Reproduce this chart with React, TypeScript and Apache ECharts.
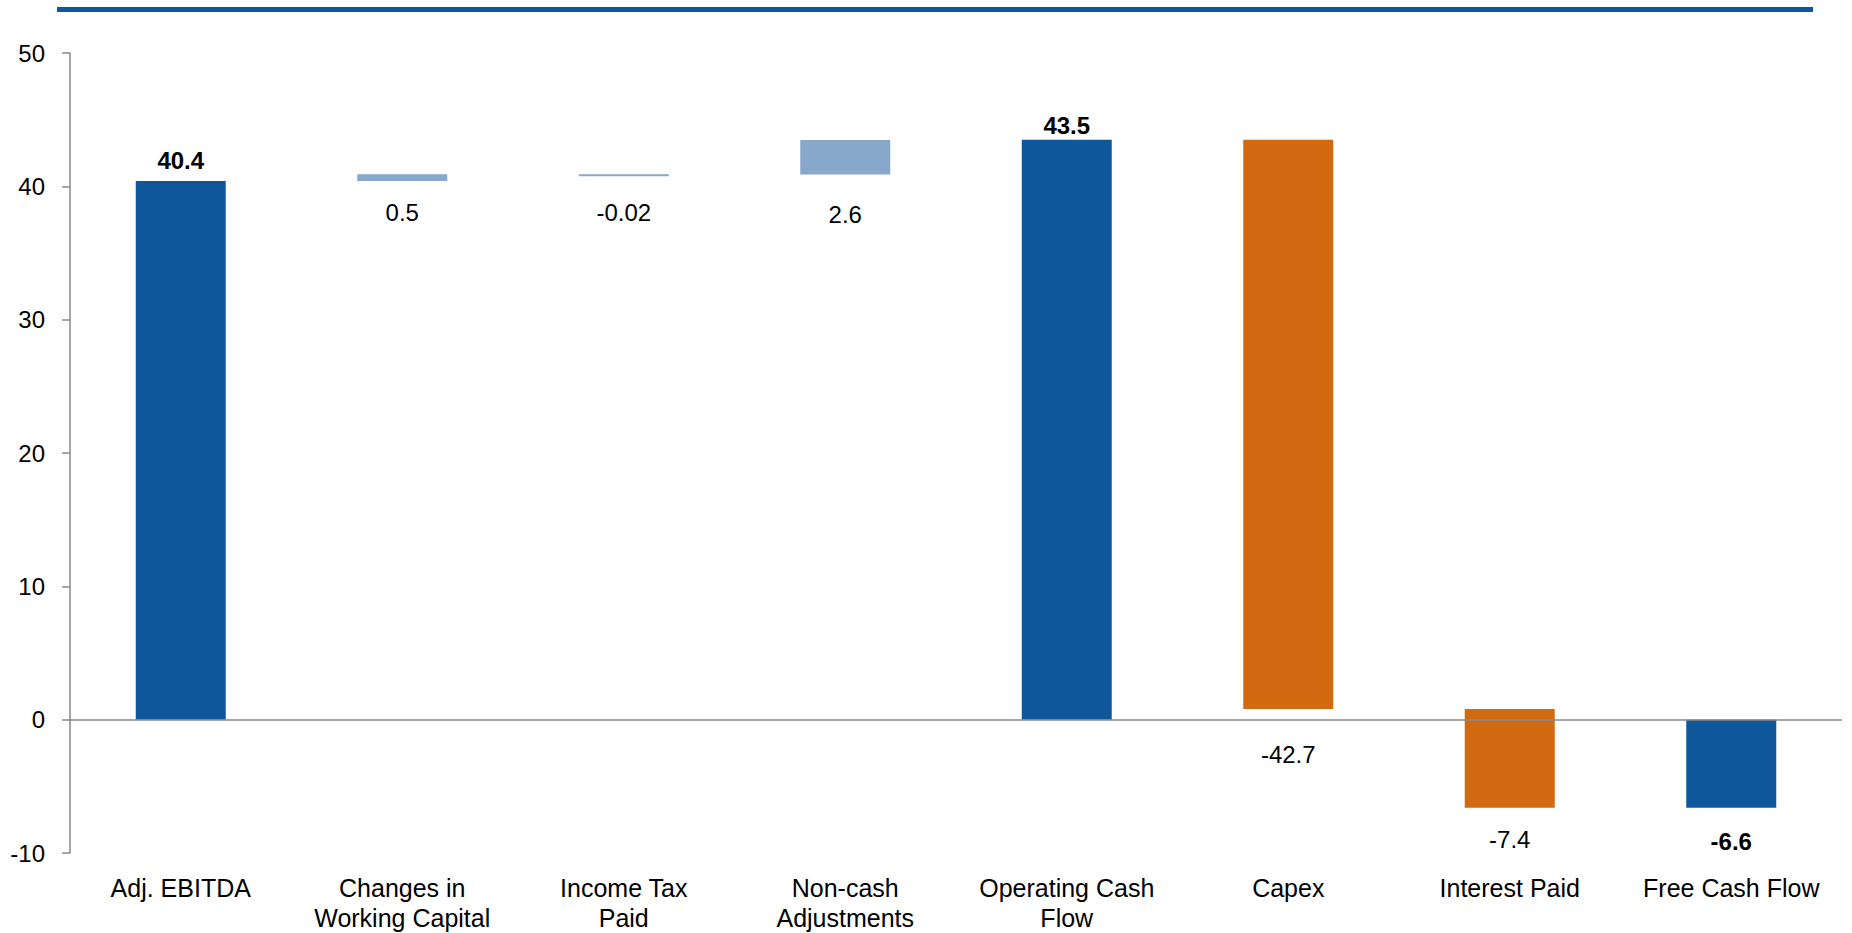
import React, { useEffect, useRef } from "react";
import * as echarts from "echarts";

const categories = [
  "Adj. EBITDA",
  "Changes in\nWorking Capital",
  "Income Tax\nPaid",
  "Non-cash\nAdjustments",
  "Operating Cash\nFlow",
  "Capex",
  "Interest Paid",
  "Free Cash Flow",
];
const values = [40.4, 0.5, -0.02, 2.6, 43.5, -42.7, -7.4, -6.6];
const kinds = ["total", "adjust", "adjust", "adjust", "total", "cost", "cost", "total"];
const valueLabels = ["40.4", "0.5", "-0.02", "2.6", "43.5", "-42.7", "-7.4", "-6.6"];
const yTicks = { min: -10, max: 50, interval: 10 };

// label placement style (not data)
const labelPlacement = [
  { position: "top", distance: 8.5 },
  { position: "bottom", distance: 19 },
  { position: "bottom", distance: 24 },
  { position: "bottom", distance: 27.5 },
  { position: "top", distance: 2.5 },
  { position: "bottom", distance: 33.5 },
  { position: "bottom", distance: 19.5 },
  { position: "bottom", distance: 21.5 },
];

const COLORS: Record<string, string> = {
  total: "#0F579B",
  adjust: "#87A8CB",
  cost: "#D26A12",
};
const FONT = "'Liberation Sans', Arial, Helvetica, sans-serif";

export default function App() {
  const ref = useRef<HTMLDivElement>(null);
  useEffect(() => {
    if (!ref.current) return;
    const chart = echarts.init(ref.current, undefined, { renderer: "svg" });

    const bases: number[] = [];
    let running = 0;
    values.forEach((v, i) => {
      if (kinds[i] === "total") {
        bases.push(0);
        running = v;
      } else {
        bases.push(running);
        running += v;
      }
    });

    chart.setOption({
      animation: false,
      textStyle: { fontFamily: FONT },
      graphic: [
        {
          type: "rect",
          shape: { x: 57, y: 7, width: 1756, height: 5 },
          style: { fill: "#0F579B" },
        },
      ],
      grid: { left: 70, right: 10, top: 53, bottom: 80, containLabel: false },
      xAxis: {
        type: "category",
        data: categories,
        axisLine: { show: false, onZero: false },
        axisTick: { show: false },
        axisLabel: {
          interval: 0,
          fontSize: 25,
          lineHeight: 30,
          color: "#000",
          margin: 19.5,
          fontFamily: FONT,
        },
      },
      yAxis: {
        type: "value",
        min: yTicks.min,
        max: yTicks.max,
        interval: yTicks.interval,
        splitLine: { show: false },
        axisLine: { show: true, lineStyle: { color: "#898989", width: 1.5 } },
        axisTick: { show: true, length: 8, lineStyle: { color: "#898989", width: 1.5 } },
        axisLabel: { fontSize: 24, color: "#000", margin: 25, fontFamily: FONT },
      },
      series: [
        {
          type: "bar",
          stack: "wf",
          stackStrategy: "all",
          barWidth: 90,
          itemStyle: { color: "transparent" },
          emphasis: { disabled: true },
          silent: true,
          data: bases,
        },
        {
          type: "bar",
          stack: "wf",
          stackStrategy: "all",
          barWidth: 90,
          barMinHeight: 2,
          emphasis: { disabled: true },
          data: values.map((v, i) => ({
            value: v,
            itemStyle: { color: COLORS[kinds[i]] },
            label: {
              show: true,
              position: labelPlacement[i].position,
              distance: labelPlacement[i].distance,
              formatter: () => valueLabels[i],
              fontSize: 24,
              color: "#000",
              fontFamily: FONT,
              fontWeight: kinds[i] === "total" ? "bold" : "normal",
            },
          })),
          markLine: {
            silent: true,
            symbol: "none",
            label: { show: false },
            lineStyle: { color: "#898989", width: 1.5, type: "solid" },
            data: [{ yAxis: 0 }],
          },
        },
      ],
    });
    return () => chart.dispose();
  }, []);
  return (
    <div
      ref={ref}
      style={{ position: "absolute", left: 0, top: 0, width: 1852, height: 933, background: "#fff" }}
    />
  );
}
